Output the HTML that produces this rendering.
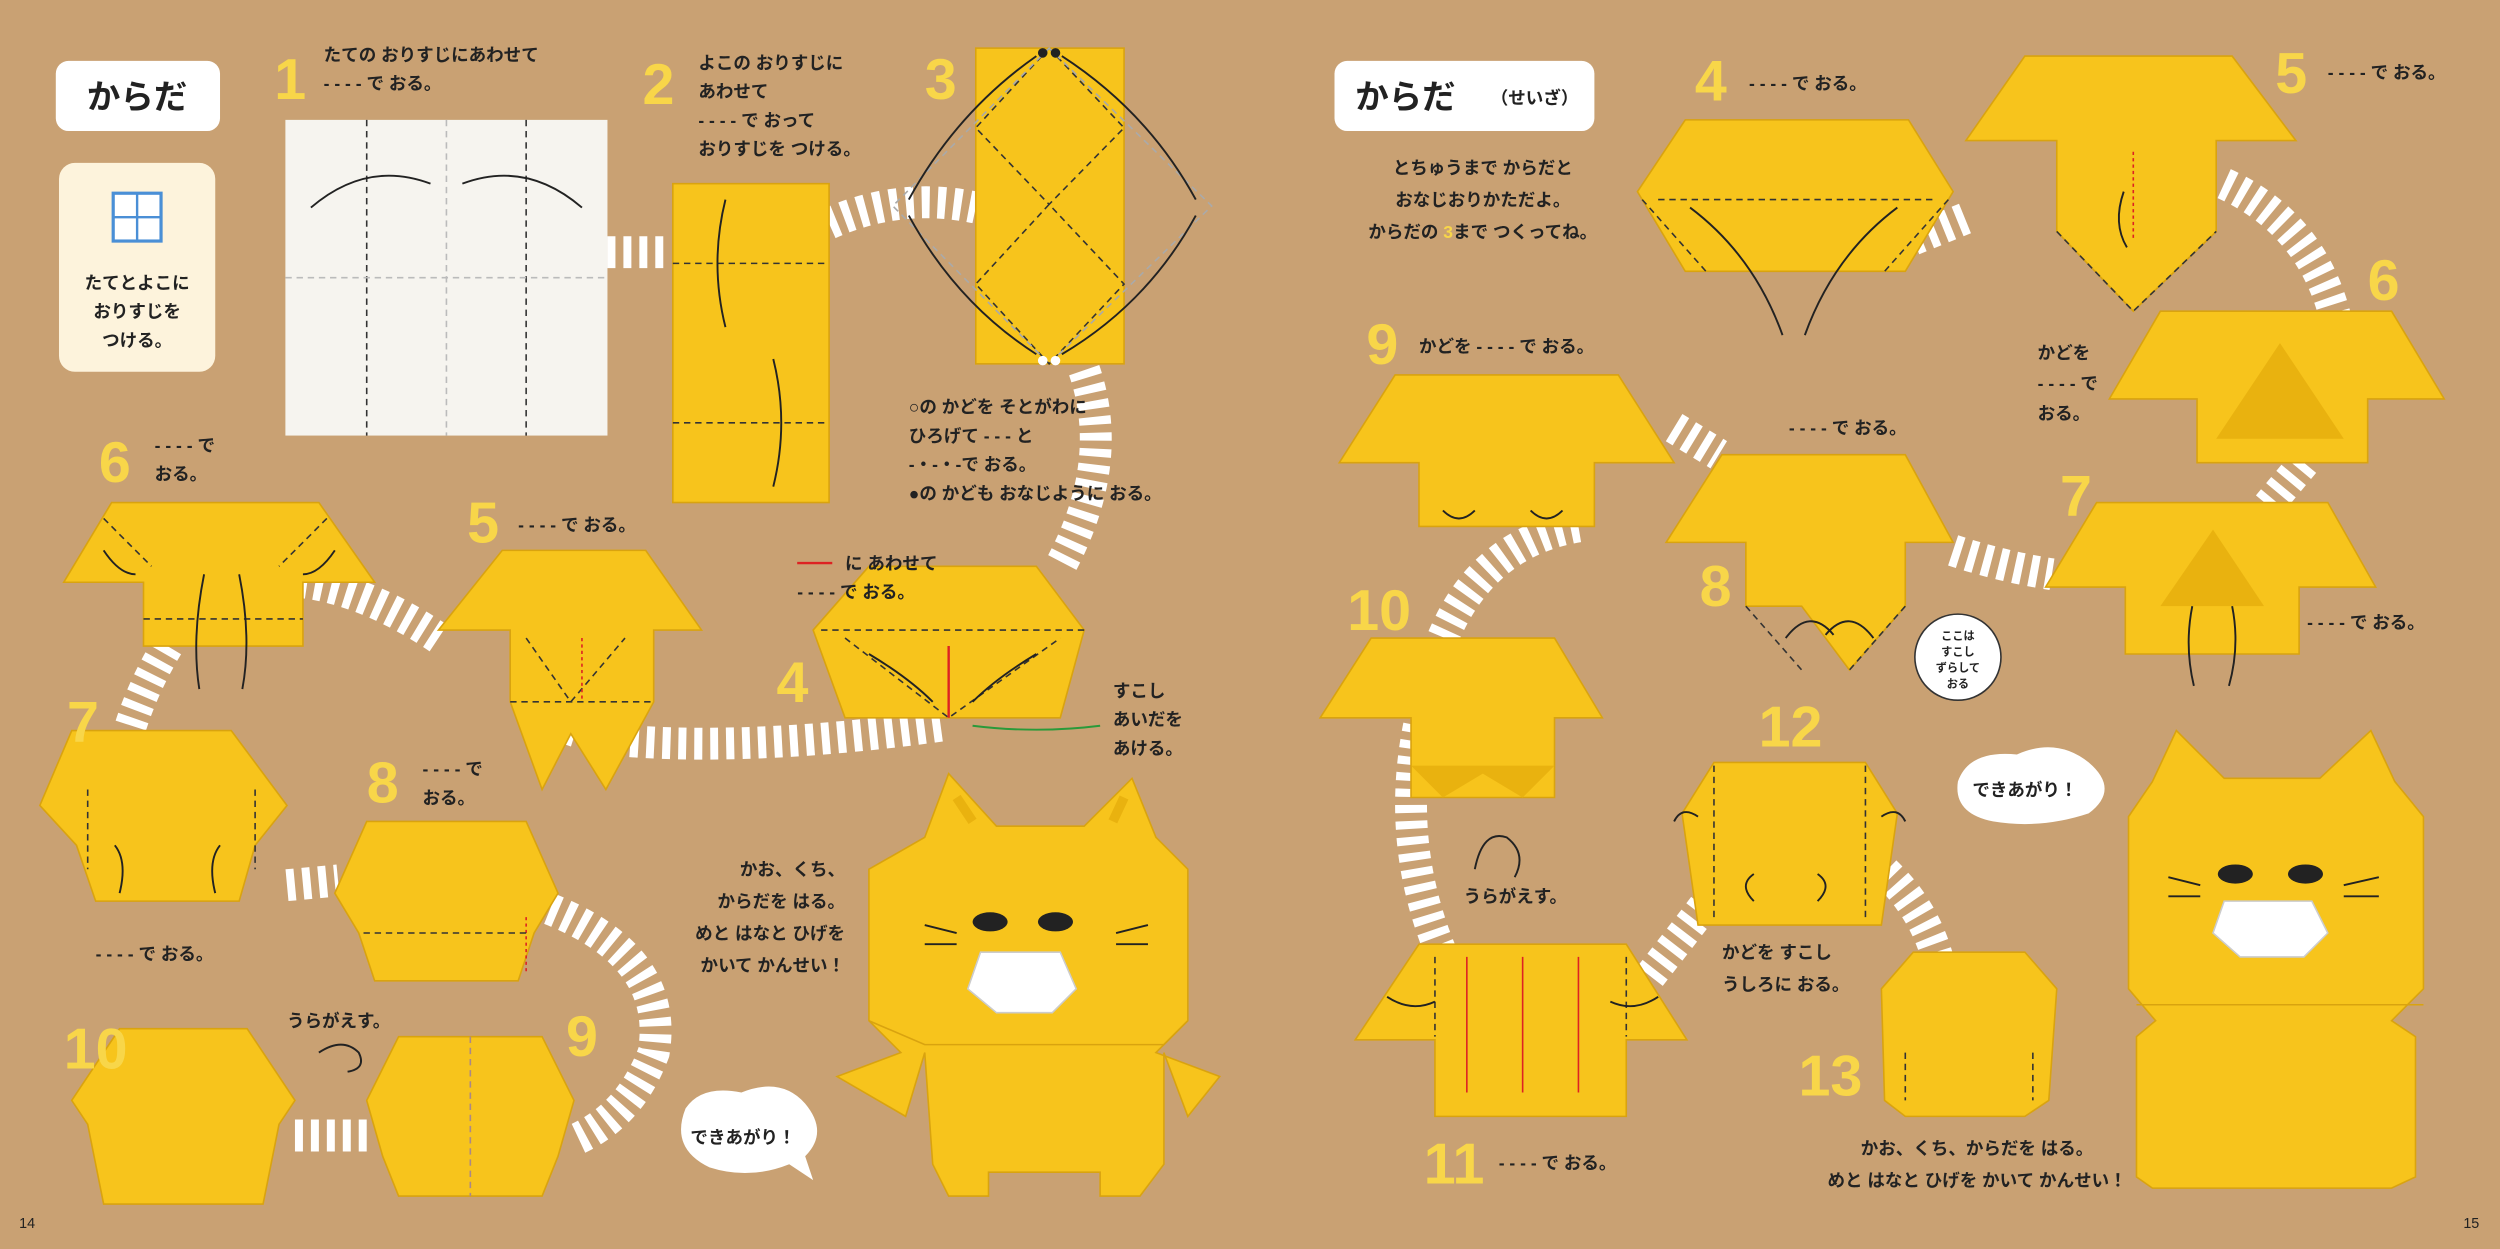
<!DOCTYPE html>
<html><head><meta charset="utf-8"><style>
html,body{margin:0;padding:0;background:#c9a173;}
svg{display:block}
text{font-family:"Liberation Sans","Noto Sans CJK JP",sans-serif;font-weight:bold;fill:#222}
.n{fill:#f8d649;font-size:36px;font-weight:900}
.t{font-size:11px}
.y{fill:#f7c41c;stroke:#d9a30f;stroke-width:1}
.d{fill:#e9b20f}
.s{fill:none;stroke:#fff;stroke-width:20;stroke-dasharray:5 5}
.dl{stroke:#333;stroke-width:1;stroke-dasharray:4 3;fill:none}
.ar{stroke:#222;stroke-width:1.2;fill:none}
</style></head><body>
<svg width="2500" height="1249" viewBox="0 0 1568 783" xmlns="http://www.w3.org/2000/svg">
<rect width="1568" height="783" fill="#c9a173"/>
<path class="s" d="M381 158 L420 158"/>
<path class="s" d="M520 140 Q565 120 612 130"/>
<path class="s" d="M680 232 Q700 290 665 355"/>
<path class="s" d="M590 455 Q480 470 400 465 Q350 462 330 440"/>
<path class="s" d="M275 400 Q230 370 190 365"/>
<path class="s" d="M105 405 Q90 430 82 455"/>
<path class="s" d="M180 555 L212 552"/>
<path class="s" d="M345 570 Q420 600 410 660 Q395 700 360 715"/>
<path class="s" d="M185 712 L232 712"/>
<path class="s" d="M1200 150 L1237 135"/>
<path class="s" d="M1395 115 Q1450 140 1465 200"/>
<path class="s" d="M1445 290 L1420 320"/>
<path class="s" d="M1225 345 Q1255 355 1287 360"/>
<path class="s" d="M1050 268 L1078 285"/>
<path class="s" d="M990 330 Q930 340 905 400"/>
<path class="s" d="M890 455 Q875 530 905 600"/>
<path class="s" d="M1035 612 Q1060 580 1075 560"/>
<path class="s" d="M1175 540 Q1205 565 1215 600"/>

<rect x="35" y="38" width="103" height="44" rx="8" fill="#fff"/>
<text x="86" y="68" text-anchor="middle" font-size="21">からだ</text>
<rect x="37" y="102" width="98" height="131" rx="10" fill="#fdf3dc"/>
<rect x="71" y="121" width="30" height="30" fill="#fff" stroke="#4a8fd6" stroke-width="2"/>
<path d="M86 121V151M71 136H101" stroke="#4a8fd6" stroke-width="1.5"/>
<text x="86" y="181" text-anchor="middle" class="t">たてとよこに</text>
<text x="86" y="199" text-anchor="middle" class="t">おりすじを</text>
<text x="86" y="217" text-anchor="middle" class="t">つける。</text>

<text x="172" y="62" class="n">1</text>
<text x="203" y="38" class="t">たての おりすじにあわせて</text>
<text x="203" y="56" class="t">- - - - で おる。</text>
<rect x="179" y="75" width="202" height="198" fill="#f6f4ef"/>
<path class="dl" d="M230 75V273M330 75V273"/>
<path class="dl" style="stroke:#bbb" d="M280 75V273M179 174H381"/>
<path class="ar" d="M195 130 Q230 100 270 115M365 130 Q330 100 290 115"/>

<text x="403" y="65" class="n">2</text>
<text x="438" y="43" class="t">よこの おりすじに</text>
<text x="438" y="61" class="t">あわせて</text>
<text x="438" y="79" class="t">- - - - で おって</text>
<text x="438" y="97" class="t">おりすじを つける。</text>
<rect x="422" y="115" width="98" height="200" class="y"/>
<path class="dl" d="M422 165H520M422 265H520"/>
<path class="ar" d="M455 125 Q445 165 455 205M485 225 Q495 265 485 305"/>

<text x="580" y="62" class="n">3</text>
<rect x="612" y="30" width="93" height="198" class="y"/>
<path class="dl" d="M658 30 L612 80 L658 128 L705 80Z M658 128 L612 178 L658 228 L705 178Z"/>
<path class="dl" style="stroke:#aaa" d="M658 30 L560 129 L658 228 L760 129Z"/>
<circle cx="654" cy="33" r="3" fill="#222"/><circle cx="662" cy="33" r="3" fill="#222"/>
<circle cx="654" cy="226" r="3" fill="#fff"/><circle cx="662" cy="226" r="3" fill="#fff"/>
<path class="ar" d="M650 35 Q600 70 570 125M666 35 Q720 70 750 125M650 222 Q600 190 570 135M666 222 Q720 190 750 135"/>
<text x="570" y="259" class="t">○の かどを そとがわに</text>
<text x="570" y="277" class="t">ひろげて  - - - と</text>
<text x="570" y="295" class="t">-・-・-で おる。</text>
<text x="570" y="313" class="t">●の かども おなじように おる。</text>

<text x="487" y="440" class="n">4</text>
<polygon class="y" points="545,355 650,355 680,395 665,450 530,450 510,395"/>
<path class="dl" d="M530 400L595 450L665 400M515 395H680"/>
<path d="M595 405V450" stroke="#d22" stroke-width="1.5"/>
<path class="ar" d="M545 410 Q570 425 585 440M650 410 Q625 425 610 440"/>
<path d="M500 353H522" stroke="#d22" stroke-width="1.5"/>
<text x="530" y="357" class="t">に あわせて</text>
<text x="500" y="375" class="t">- - - -  で おる。</text>
<path d="M690 455 Q650 460 610 455" stroke="#2a9a3a" stroke-width="1.2" fill="none"/>
<text x="698" y="437" class="t">すこし</text>
<text x="698" y="455" class="t">あいだを</text>
<text x="698" y="473" class="t">あける。</text>

<text x="293" y="340" class="n">5</text>
<text x="325" y="333" class="t">- - - - で おる。</text>
<polygon class="y" points="315,345 405,345 440,395 410,395 410,440 380,495 358,460 340,495 320,440 320,395 275,395"/>
<path class="dl" d="M320 440H410M330 400L358 440L392 400"/>
<path d="M365 400V440" stroke="#d22" stroke-width="1" stroke-dasharray="2 2"/>

<text x="62" y="302" class="n">6</text>
<text x="97" y="283" class="t">- - - - で</text>
<text x="97" y="301" class="t">おる。</text>
<polygon class="y" points="70,315 200,315 235,365 190,365 190,405 90,405 90,365 40,365"/>
<path class="dl" d="M65 325 L95 355M205 325 L175 355M90 388H190"/>
<path class="ar" d="M128 360 Q120 400 125 432M150 360 Q158 400 152 432M65 345 Q75 360 85 360M210 345 Q200 360 190 360"/>

<polygon class="y" points="45,458 145,458 180,505 160,530 150,565 60,565 48,530 25,505"/>
<path class="dl" d="M55 495V545M160 495V545"/>
<path class="ar" d="M75 560 Q80 540 72 530M135 560 Q130 540 138 530"/>
<text x="42" y="465" class="n">7</text>
<text x="60" y="602" class="t">- - - - で おる。</text>

<text x="230" y="503" class="n">8</text>
<text x="265" y="486" class="t">- - - - で</text>
<text x="265" y="504" class="t">おる。</text>
<polygon class="y" points="230,515 330,515 350,560 335,585 325,615 235,615 225,585 210,560"/>
<path d="M330 575V610" stroke="#d22" stroke-width="1" stroke-dasharray="2 2"/>
<path class="dl" d="M228 585H332"/>

<text x="355" y="662" class="n">9</text>
<polygon class="y" points="250,650 340,650 360,690 350,725 340,750 250,750 240,725 230,690"/>
<path class="dl" style="stroke:#a88" d="M295 650V750"/>

<polygon class="y" points="75,645 155,645 185,690 175,705 165,755 65,755 55,705 45,690"/>
<text x="40" y="670" class="n">10</text>
<text x="180" y="644" class="t">うらがえす。</text>
<path class="ar" d="M200 660 Q215 650 225 660 Q230 670 218 672"/>

<polygon class="y" points="580,525 595,485 625,518 680,518 710,488 725,525 745,545 745,640 725,660 765,675 745,700 730,660 730,730 715,750 690,750 690,735 620,735 620,750 595,750 585,730 580,660 568,700 525,675 565,660 545,640 545,545"/>
<path d="M600 500 L610 515 M705 500 L698 515" stroke="#e9b20f" stroke-width="6"/>
<path d="M545 640 L580 655 L730 655 L745 640" stroke="#d9a30f" fill="none"/>
<ellipse cx="621" cy="578" rx="11" ry="6" fill="#222"/>
<ellipse cx="662" cy="578" rx="11" ry="6" fill="#222"/>
<path d="M615 597 L665 597 L675 620 L660 635 L625 635 L607 620Z" fill="#fff" stroke="#ccc"/>
<path class="ar" d="M580 580 L600 585M580 592 L600 592M700 585 L720 580M700 592 L720 592"/>
<text x="530" y="549" text-anchor="end" class="t">かお、くち、</text>
<text x="530" y="569" text-anchor="end" class="t">からだを はる。</text>
<text x="530" y="589" text-anchor="end" class="t">めと はなと ひげを</text>
<text x="530" y="609" text-anchor="end" class="t">かいて かんせい！</text>
<path d="M430 695 Q440 680 465 685 Q490 675 505 692 Q520 710 505 725 L510 740 L495 730 Q470 740 445 732 Q420 720 430 695Z" fill="#fff"/>
<text x="466" y="717" text-anchor="middle" class="t">できあがり！</text>
<text x="12" y="770" style="font-size:9px;font-weight:normal">14</text>

<rect x="837" y="38" width="163" height="44" rx="8" fill="#fff"/>
<text x="850" y="68" font-size="21">からだ</text>
<text x="935" y="65" font-size="11">（せいざ）</text>
<text x="930" y="109" text-anchor="middle" class="t">とちゅうまで からだと</text>
<text x="930" y="129" text-anchor="middle" class="t">おなじおりかただよ。</text>
<text x="930" y="149" text-anchor="middle" class="t">からだの <tspan fill="#f8d649">3</tspan>まで つくってね。</text>

<text x="1063" y="63" class="n">4</text>
<text x="1097" y="56" class="t">- - - - で おる。</text>
<polygon class="y" points="1057,75 1197,75 1225,120 1195,170 1057,170 1027,120"/>
<path class="dl" d="M1030 125L1070 170M1222 125L1182 170M1040 125H1215"/>
<path class="ar" d="M1060 130 Q1100 160 1118 210M1190 130 Q1150 160 1132 210"/>

<text x="1427" y="58" class="n">5</text>
<text x="1460" y="49" class="t">- - - - で おる。</text>
<polygon class="y" points="1270,35 1400,35 1440,88 1390,88 1390,145 1338,195 1290,145 1290,88 1233,88"/>
<path class="dl" d="M1290 145L1338 195L1390 145"/>
<path d="M1338 95V150" stroke="#d22" stroke-width="1" stroke-dasharray="2 2"/>
<path class="ar" d="M1332 120 Q1325 140 1334 155"/>

<text x="1485" y="188" class="n">6</text>
<text x="1278" y="225" class="t">かどを</text>
<text x="1278" y="244" class="t">- - - - で</text>
<text x="1278" y="263" class="t">おる。</text>
<polygon class="y" points="1355,195 1500,195 1533,250 1485,250 1485,290 1378,290 1378,250 1323,250"/>
<polygon class="d" points="1430,215 1470,275 1390,275"/>

<text x="1292" y="323" class="n">7</text>
<polygon class="y" points="1315,315 1460,315 1490,368 1442,368 1442,410 1333,410 1333,368 1283,368"/>
<polygon class="d" points="1388,332 1420,380 1355,380"/>
<path class="ar" d="M1375 380 Q1370 405 1376 430M1400 380 Q1405 405 1398 430"/>
<text x="1447" y="394" class="t">- - - - で おる。</text>

<text x="1066" y="380" class="n">8</text>
<text x="1122" y="272" class="t">- - - - で おる。</text>
<polygon class="y" points="1080,285 1195,285 1225,340 1195,340 1195,380 1160,420 1130,380 1095,380 1095,340 1045,340"/>
<path class="dl" d="M1095 380L1130 420M1195 380L1160 420"/>
<path class="ar" d="M1120 400 Q1135 380 1150 398M1175 400 Q1160 380 1145 398"/>
<circle cx="1228" cy="412" r="27" fill="#fff" stroke="#333"/>
<text x="1228" y="401" text-anchor="middle" style="font-size:7px">ここは</text>
<text x="1228" y="411" text-anchor="middle" style="font-size:7px">すこし</text>
<text x="1228" y="421" text-anchor="middle" style="font-size:7px">ずらして</text>
<text x="1228" y="431" text-anchor="middle" style="font-size:7px">おる</text>

<text x="857" y="228" class="n">9</text>
<text x="890" y="221" class="t">かどを  - - - - で おる。</text>
<polygon class="y" points="875,235 1015,235 1050,290 1000,290 1000,330 890,330 890,290 840,290"/>
<path class="ar" d="M905 320 Q915 330 925 320M980 320 Q970 330 960 320"/>

<text x="845" y="395" class="n">10</text>
<polygon class="y" points="860,400 975,400 1005,450 975,450 975,500 885,500 885,450 828,450"/>
<path d="M885 480 L905 500 L930 485 L955 500 L975 480Z" fill="#e9b20f"/>

<path class="ar" d="M925 545 Q930 520 945 525 Q958 535 950 550"/>
<text x="918" y="566" class="t">うらがえす。</text>

<polygon class="y" points="890,592 1020,592 1058,652 1020,652 1020,700 900,700 900,652 850,652"/>
<path d="M920 600V685M955 600V685M990 600V685" stroke="#d22" stroke-width="1"/>
<path class="dl" d="M900 600V650M1020 600V650"/>
<path class="ar" d="M870 625 Q885 635 900 628M1040 625 Q1025 635 1010 628"/>
<text x="893" y="742" class="n">11</text>
<text x="940" y="733" class="t">- - - - で おる。</text>

<text x="1103" y="468" class="n">12</text>
<polygon class="y" points="1075,478 1170,478 1190,510 1180,580 1065,580 1055,510"/>
<path class="dl" d="M1075 480V575M1170 480V575"/>
<path class="ar" d="M1050 515 Q1055 505 1065 512M1195 515 Q1190 505 1180 512M1100 565 Q1090 555 1100 548M1140 565 Q1150 555 1140 548"/>
<text x="1080" y="601" class="t">かどを すこし</text>
<text x="1080" y="621" class="t">うしろに おる。</text>

<text x="1128" y="687" class="n">13</text>
<polygon class="y" points="1200,597 1270,597 1290,620 1285,690 1270,700 1195,700 1182,690 1180,620"/>
<path class="dl" d="M1195 660V690M1275 660V690"/>

<path d="M1228 490 Q1235 470 1265 473 Q1290 462 1310 478 Q1330 495 1310 510 Q1280 520 1250 515 Q1225 510 1228 490Z" fill="#fff"/>
<text x="1270" y="499" text-anchor="middle" class="t">できあがり！</text>

<polygon class="y" points="1350,490 1365,458 1395,488 1455,488 1487,458 1502,490 1520,512 1520,620 1500,640 1515,650 1515,738 1500,745 1350,745 1340,738 1340,650 1352,640 1335,620 1335,512"/>
<path d="M1340 630 H1520" stroke="#d9a30f"/>
<ellipse cx="1402" cy="548" rx="11" ry="6" fill="#222"/>
<ellipse cx="1446" cy="548" rx="11" ry="6" fill="#222"/>
<path d="M1395 565 L1450 565 L1460 585 L1445 600 L1405 600 L1388 585Z" fill="#fff" stroke="#ccc"/>
<path class="ar" d="M1360 550 L1380 555M1360 562 L1380 562M1470 555 L1492 550M1470 562 L1492 562"/>
<text x="1240" y="724" text-anchor="middle" class="t">かお、くち、からだを はる。</text>
<text x="1240" y="744" text-anchor="middle" class="t">めと はなと ひげを かいて かんせい！</text>
<text x="1545" y="770" style="font-size:9px;font-weight:normal">15</text>
</svg>
</body></html>
